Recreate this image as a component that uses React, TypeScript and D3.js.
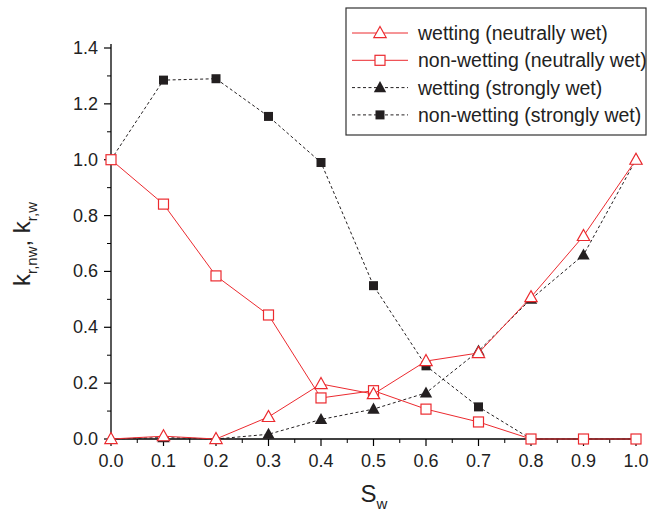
import React from "react";
import * as d3 from "d3";

const sw = [0, 0.1, 0.2, 0.3, 0.4, 0.5, 0.6, 0.7, 0.8, 0.9, 1.0];
const wettingNeutral = [0, 0.01, 0, 0.079, 0.197, 0.161, 0.279, 0.308, 0.508, 0.727, 1.0];
const nonWettingNeutral = [1.0, 0.841, 0.584, 0.444, 0.147, 0.173, 0.107, 0.061, 0, 0, 0];
const wettingStrong = [0, 0.005, 0, 0.017, 0.07, 0.107, 0.165, 0.315, 0.501, 0.659, 1.0];
const nonWettingStrong = [1.0, 1.285, 1.29, 1.155, 0.99, 0.549, 0.262, 0.115, 0, 0, 0];
const xTicks = [0, 0.1, 0.2, 0.3, 0.4, 0.5, 0.6, 0.7, 0.8, 0.9, 1.0];
const yTicks = [0, 0.2, 0.4, 0.6, 0.8, 1.0, 1.2, 1.4];
const legendLabels = [
  "wetting (neutrally wet)",
  "non-wetting (neutrally wet)",
  "wetting (strongly wet)",
  "non-wetting (strongly wet)",
];

const RED = "#ec2a2f";
const BLK = "#231f20";
const FONT = "Liberation Sans, Arial, sans-serif";

const x = d3.scaleLinear().domain([0, 1]).range([111, 636]);
const y = d3.scaleLinear().domain([0, 1.4]).range([439, 48]);

type Series = { vals: number[]; color: string; dash?: string; marker: "tri" | "sq"; filled: boolean };
const series: Series[] = [
  { vals: nonWettingStrong, color: BLK, dash: "3,2.5", marker: "sq", filled: true },
  { vals: wettingStrong, color: BLK, dash: "3,2.5", marker: "tri", filled: true },
  { vals: nonWettingNeutral, color: RED, marker: "sq", filled: false },
  { vals: wettingNeutral, color: RED, marker: "tri", filled: false },
];

function Marker({ cx, cy, s }: { cx: number; cy: number; s: Series }) {
  if (s.marker === "sq") {
    const h = s.filled ? 4.5 : 5;
    return (
      <rect x={cx - h} y={cy - h} width={2 * h} height={2 * h}
        fill={s.filled ? s.color : "white"} stroke={s.color} strokeWidth={s.filled ? 0 : 1.2} />
    );
  }
  const r = 6.5;
  const pts = `${cx},${cy - r} ${cx + r * 0.95},${cy + r * 0.7} ${cx - r * 0.95},${cy + r * 0.7}`;
  return <polygon points={pts} fill={s.filled ? s.color : "white"} stroke={s.color} strokeWidth={s.filled ? 0 : 1.2} />;
}

export default function App() {
  const line = d3.line<number>().x((_, i) => x(sw[i])).y((v) => y(v));
  const minorX = d3.range(0, 20).map((i) => 0.05 + i * 0.1).filter((v) => v < 1);
  const minorY = d3.range(0, 7).map((i) => 0.1 + i * 0.2);
  const legendOrder: Series[] = [series[3], series[2], series[1], series[0]];
  return (
    <svg width={654} height={517} style={{ position: "absolute", left: 0, top: 0 }}>
      <rect width={654} height={517} fill="white" />
      {/* axes */}
      <line x1={x(0)} x2={x(1) + 4} y1={y(0)} y2={y(0)} stroke="#000" strokeWidth={1.3} />
      <line x1={x(0)} x2={x(0)} y1={y(0)} y2={y(1.4) - 4} stroke="#000" strokeWidth={1.3} />
      {xTicks.map((t) => (
        <g key={"xt" + t}>
          <line x1={x(t)} x2={x(t)} y1={y(0)} y2={y(0) + 7} stroke="#000" strokeWidth={1.2} />
          <text x={x(t)} y={y(0) + 28} textAnchor="middle" fontSize={18} fontFamily={FONT} fill="#222">
            {t.toFixed(1)}
          </text>
        </g>
      ))}
      {minorX.map((t) => (
        <line key={"mx" + t} x1={x(t)} x2={x(t)} y1={y(0)} y2={y(0) + 4} stroke="#000" strokeWidth={1} />
      ))}
      {yTicks.map((t) => (
        <g key={"yt" + t}>
          <line x1={x(0) - 7} x2={x(0)} y1={y(t)} y2={y(t)} stroke="#000" strokeWidth={1.2} />
          <text x={x(0) - 13} y={y(t) + 6} textAnchor="end" fontSize={18} fontFamily={FONT} fill="#222">
            {t.toFixed(1)}
          </text>
        </g>
      ))}
      {minorY.map((t) => (
        <line key={"my" + t} x1={x(0) - 4} x2={x(0)} y1={y(t)} y2={y(t)} stroke="#000" strokeWidth={1} />
      ))}
      {/* axis titles */}
      <text x={374} y={502} textAnchor="middle" fontSize={24} fontFamily={FONT} fill="#222">
        S<tspan fontSize={15} dy={7}>w</tspan>
      </text>
      <text transform="translate(30,244) rotate(-90)" textAnchor="middle" fontSize={24} fontFamily={FONT} fill="#222">
        k<tspan fontSize={15} dy={7}>r,nw</tspan><tspan dy={-7}>, k</tspan><tspan fontSize={15} dy={7}>r,w</tspan>
      </text>
      {/* series */}
      {series.map((s, si) => (
        <g key={"s" + si}>
          <path d={line(s.vals) || ""} fill="none" stroke={s.color} strokeWidth={1} strokeDasharray={s.dash} />
          {s.vals.map((v, i) => (
            <Marker key={i} cx={x(sw[i])} cy={y(v)} s={s} />
          ))}
        </g>
      ))}
      {/* legend */}
      <rect x={346} y={8} width={300} height={127} fill="white" stroke="#333" strokeWidth={1.2} />
      {legendOrder.map((s, i) => {
        const ly = 33 + i * 27.3;
        return (
          <g key={"lg" + i}>
            <line x1={352} x2={408} y1={ly} y2={ly} stroke={s.color} strokeWidth={1} strokeDasharray={s.dash} />
            <Marker cx={380} cy={ly} s={s} />
            <text x={418} y={ly + 7} fontSize={19.5} fontFamily={FONT} fill="#222">
              {legendLabels[i]}
            </text>
          </g>
        );
      })}
    </svg>
  );
}
